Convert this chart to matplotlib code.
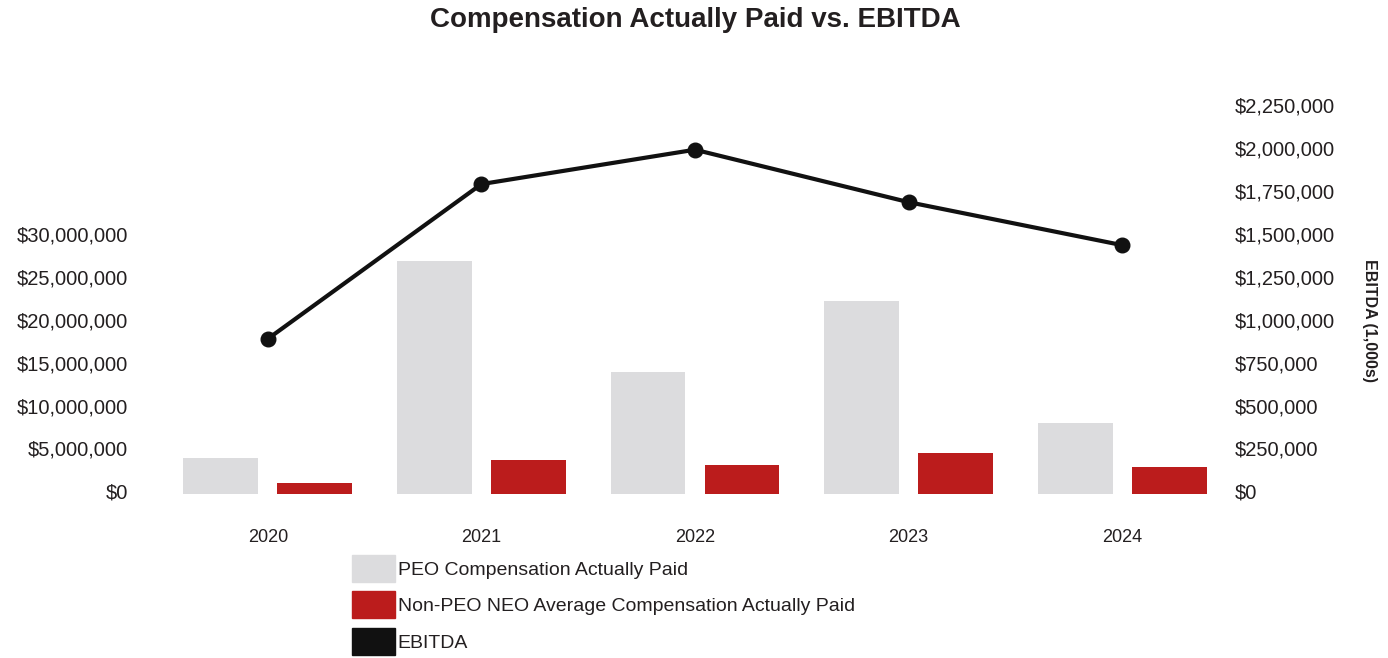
import numpy as np
import matplotlib.pyplot as plt
from matplotlib.patches import Patch
from matplotlib.ticker import FuncFormatter
from matplotlib.transforms import ScaledTranslation

plt.rcParams['font.family'] = ['Liberation Sans', 'DejaVu Sans']

## data
years = ['2020', '2021', '2022', '2023', '2024']
peo_cap = [4300000, 27200000, 14200000, 22500000, 8300000]
neo_cap = [1300000, 4000000, 3400000, 4800000, 3200000]
ebitda = [905000, 1805000, 2005000, 1700000, 1450000]

left_ticks = np.arange(0, 30000001, 5000000)
right_ticks = np.arange(0, 2250001, 250000)

grey = '#dcdcde'
red = '#bb1c1c'
black = '#111111'
txt = '#231f20'

fig = plt.figure(figsize=(13.88, 6.58), dpi=100)
ax = fig.add_axes([0.116, 0.2485, 0.7694, 0.588])
ax2 = ax.twinx()

x = np.arange(len(years))
w = 0.35
ax.bar(x - 0.22, peo_cap, width=w, color=grey, zorder=1)
ax.bar(x + 0.22, neo_cap, width=w, color=red, zorder=1)
ax2.plot(x, ebitda, color=black, lw=3, marker='o', ms=10.5, zorder=3)

ax.set_xlim(-0.5, 4.5)
ax.set_ylim(0, 45000000)
ax2.set_ylim(0, 2250000)
ax.set_yticks(left_ticks)
ax2.set_yticks(right_ticks)
money = FuncFormatter(lambda v, p: '${:,.0f}'.format(v))
ax.yaxis.set_major_formatter(money)
ax2.yaxis.set_major_formatter(money)
ax.set_xticks(x)
ax.set_xticklabels(years)

for a in (ax, ax2):
    for s in a.spines.values():
        s.set_visible(False)
    a.tick_params(length=0, colors=txt)
ax.tick_params(axis='y', labelsize=14.5, pad=24)
ax2.tick_params(axis='y', labelsize=14.5, pad=4)
ax.tick_params(axis='x', labelsize=13, pad=24.5)

# the value labels sit a few pixels above their gridline in the original
lift = ScaledTranslation(0, 3 / 100, fig.dpi_scale_trans)
for lab in ax.get_yticklabels() + ax2.get_yticklabels():
    lab.set_transform(lab.get_transform() + lift)

fig.text(0.5007, 0.969, 'Compensation Actually Paid vs. EBITDA', ha='center', va='center',
         fontsize=20, fontweight='bold', color=txt)
fig.text(1370 / 1388, 1 - 320 / 658, 'EBITDA (1,000s)', rotation=270, ha='center', va='center',
         fontsize=11.5, fontweight='bold', color=txt)

handles = [Patch(color=grey), Patch(color=red), Patch(color=black)]
labels = ['PEO Compensation Actually Paid', 'Non-PEO NEO Average Compensation Actually Paid', 'EBITDA']
leg = fig.legend(handles, labels, loc='upper left', bbox_to_anchor=(352 / 1388, 1 - 555 / 658),
                 frameon=False, fontsize=14, handlelength=2.2, handleheight=1.75,
                 handletextpad=0.15, labelspacing=0.49, borderpad=0, borderaxespad=0)
for t in leg.get_texts():
    t.set_color(txt)

fig.savefig('out.png', dpi=100)
